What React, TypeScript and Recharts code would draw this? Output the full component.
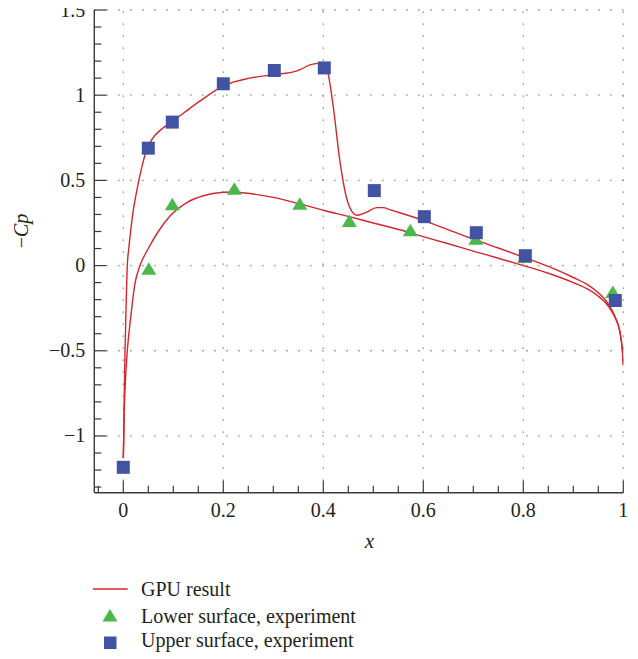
import React from 'react';
import { ComposedChart, Line, Scatter, XAxis, YAxis, ReferenceLine, Label } from 'recharts';

// GPU result: upper surface branch (x, -Cp)
const gpuUpper: [number, number][] = [
  [0, -1.13], [0.001, -1.0], [0.002, -0.75], [0.0035, -0.5], [0.0055, -0.25], [0.008, 0.0],
  [0.011, 0.1], [0.015, 0.21], [0.019, 0.305], [0.027, 0.44], [0.037, 0.578], [0.048, 0.69],
  [0.06, 0.752], [0.073, 0.792], [0.087, 0.823], [0.1, 0.85], [0.125, 0.905], [0.153, 0.965],
  [0.2, 1.055], [0.253, 1.1], [0.3, 1.12], [0.32, 1.127], [0.34, 1.137], [0.355, 1.152],
  [0.373, 1.178], [0.39, 1.187], [0.4, 1.178], [0.407, 1.155], [0.42, 0.93], [0.433, 0.617],
  [0.45, 0.363], [0.467, 0.295], [0.487, 0.314], [0.507, 0.34], [0.52, 0.34], [0.533, 0.328],
  [0.553, 0.31], [0.6, 0.265], [0.65, 0.21], [0.7, 0.155], [0.75, 0.103], [0.8, 0.05],
  [0.85, -0.005], [0.9, -0.07], [0.93, -0.115], [0.95, -0.16], [0.965, -0.205], [0.975, -0.25],
  [0.985, -0.31], [0.992, -0.37], [0.996, -0.44], [0.999, -0.53], [1.0, -0.585],
];

// GPU result: lower surface branch (x, -Cp)
const gpuLower: [number, number][] = [
  [0, -1.13], [0.0015, -0.89], [0.004, -0.69], [0.008, -0.5], [0.015, -0.3], [0.0234, -0.105],
  [0.0334, 0.0], [0.05, 0.1], [0.07, 0.2], [0.093, 0.29], [0.127, 0.37], [0.16, 0.41],
  [0.2, 0.43], [0.22, 0.432], [0.26, 0.42], [0.3, 0.4], [0.353, 0.362], [0.4, 0.325],
  [0.452, 0.287], [0.5, 0.25], [0.553, 0.21], [0.6, 0.17], [0.65, 0.128], [0.7, 0.085],
  [0.75, 0.043], [0.8, 0.0], [0.85, -0.045], [0.9, -0.1], [0.93, -0.14], [0.95, -0.18],
  [0.965, -0.22], [0.975, -0.26], [0.985, -0.315], [0.992, -0.375], [0.996, -0.44],
  [0.999, -0.53], [1.0, -0.585],
];

// Experiments
const lowerExpX = [0.051, 0.098, 0.222, 0.353, 0.452, 0.574, 0.705, 0.803, 0.979];
const lowerExpY = [-0.018, 0.36, 0.451, 0.363, 0.261, 0.207, 0.158, 0.05, -0.155];
const upperExpX = [0.0, 0.05, 0.098, 0.2, 0.302, 0.402, 0.502, 0.602, 0.706, 0.804, 0.984];
const upperExpY = [-1.184, 0.689, 0.842, 1.067, 1.145, 1.16, 0.44, 0.287, 0.193, 0.058, -0.205];

// Axes ticks
const xTicks = [-0.05, 0, 0.05, 0.1, 0.15, 0.2, 0.25, 0.3, 0.35, 0.4, 0.45, 0.5, 0.55, 0.6, 0.65, 0.7, 0.75, 0.8, 0.85, 0.9, 0.95, 1];
const xMajor = [0, 0.2, 0.4, 0.6, 0.8, 1];
const yTicks = [-1.3, -1.2, -1.1, -1, -0.9, -0.8, -0.7, -0.6, -0.5, -0.4, -0.3, -0.2, -0.1, 0, 0.1, 0.2, 0.3, 0.4, 0.5, 0.6, 0.7, 0.8, 0.9, 1, 1.1, 1.2, 1.3, 1.4, 1.5];
const yMajor = [-1, -0.5, 0, 0.5, 1, 1.5];

const toPts = (arr: [number, number][]) => arr.map(([x, y]) => ({ x, y }));
const zipPts = (xs: number[], ys: number[]) => xs.map((x, i) => ({ x, y: ys[i] }));

const RED = '#d3262e';
const BLUE = '#4253a3';
const GREEN = '#4bb849';
const AXIS = '#3a3a3a';
const TEXT = '#231f20';
const GRID = '#7a7a7a';
const FONT = '"Liberation Serif", "DejaVu Serif", serif';

const fmt = (v: number) => (v < 0 ? '\u2212' + String(Math.abs(v)) : String(v));

const YTick = (props: any) => {
  const { x, y, payload } = props;
  const v = payload.value;
  const major = yMajor.includes(v);
  return (
    <g>
      <line x1={x} x2={x + (major ? 12 : 7)} y1={y} y2={y} stroke={AXIS} strokeWidth={1.2} />
      {major && (
        <text x={x - 9} y={y + 6.5} textAnchor="end" fontFamily={FONT} fontSize={20} fill={TEXT}>
          {fmt(v)}
        </text>
      )}
    </g>
  );
};

const XTick = (props: any) => {
  const { x, y, payload } = props;
  const v = payload.value;
  const major = xMajor.includes(v);
  return (
    <g>
      <line x1={x} x2={x} y1={y} y2={y - (major ? 12 : 7)} stroke={AXIS} strokeWidth={1.2} />
      {major && (
        <text x={x} y={y + 24.5} textAnchor="middle" fontFamily={FONT} fontSize={20} fill={TEXT}>
          {fmt(v)}
        </text>
      )}
    </g>
  );
};

const Square = (props: any) => {
  const { cx, cy } = props;
  if (cx == null || cy == null) return <g />;
  return <rect x={cx - 6.5} y={cy - 6.5} width={13} height={13} fill={BLUE} />;
};

const Triangle = (props: any) => {
  const { cx, cy } = props;
  if (cx == null || cy == null) return <g />;
  return <polygon points={`${cx},${cy - 6.5} ${cx + 7.5},${cy + 6} ${cx - 7.5},${cy + 6}`} fill={GREEN} />;
};

const YTitle = (props: any) => {
  const vb = props.viewBox || { x: 0, y: 10, width: 94.3, height: 482.7 };
  const x = vb.x + 28.5;
  const y = vb.y + vb.height / 2 - 20.3;
  return (
    <text x={x} y={y} transform={`rotate(-90, ${x}, ${y})`} textAnchor="middle" fontFamily={FONT} fontSize={20} fill={TEXT}>
      <tspan>{'\u2212'}</tspan>
      <tspan fontStyle="italic">Cp</tspan>
    </text>
  );
};

const XTitle = (props: any) => {
  const vb = props.viewBox || { x: 94.3, y: 492.7, width: 529, height: 75.3 };
  return (
    <text x={vb.x + 275.2} y={vb.y + 55.6} textAnchor="middle" fontFamily={FONT} fontSize={21} fontStyle="italic" fill={TEXT}>
      x
    </text>
  );
};

const gridProps = { stroke: GRID, strokeWidth: 1.3, strokeDasharray: '1.3 10.7' };

export default function App() {
  const upper = toPts(gpuUpper);
  const lower = toPts(gpuLower);
  const lowerExp = zipPts(lowerExpX, lowerExpY);
  const upperExp = zipPts(upperExpX, upperExpY);

  return (
    <div style={{ width: 638, position: 'relative', margin: '-8px 0 0 -8px' }}>
      <style>{'.recharts-surface, .recharts-wrapper { overflow: visible !important; }'}</style>
      <ComposedChart width={638} height={568} margin={{ top: 10, right: 14.7, left: 0, bottom: 0 }}>
        <XAxis
          type="number"
          dataKey="x"
          domain={[-0.058, 1]}
          allowDataOverflow
          ticks={xTicks}
          interval={0}
          tick={<XTick />}
          tickLine={false}
          tickSize={0}
          tickMargin={0}
          axisLine={{ stroke: AXIS, strokeWidth: 1.4 }}
          height={75.3}
        >
          <Label content={<XTitle />} />
        </XAxis>
        <YAxis
          type="number"
          dataKey="y"
          domain={[-1.333, 1.5]}
          allowDataOverflow
          ticks={yTicks}
          interval={0}
          tick={<YTick />}
          tickLine={false}
          tickSize={0}
          tickMargin={0}
          axisLine={{ stroke: AXIS, strokeWidth: 1.4 }}
          width={94.3}
        >
          <Label content={<YTitle />} />
        </YAxis>
        {xMajor.map((v) => (
          <ReferenceLine key={'gx' + v} x={v} {...gridProps} />
        ))}
        {yMajor.map((v) => (
          <ReferenceLine key={'gy' + v} y={v} {...gridProps} />
        ))}
        <Line data={upper} dataKey="y" type="monotone" stroke={RED} strokeWidth={1.4} dot={false} activeDot={false} isAnimationActive={false} legendType="none" />
        <Line data={lower} dataKey="y" type="monotone" stroke={RED} strokeWidth={1.4} dot={false} activeDot={false} isAnimationActive={false} legendType="none" />
        <Scatter data={lowerExp} dataKey="y" shape={<Triangle />} isAnimationActive={false} />
        <Scatter data={upperExp} dataKey="y" shape={<Square />} isAnimationActive={false} />
      </ComposedChart>
      <svg width={638} height={91} style={{ display: 'block' }}>
        <line x1={93} x2={127.7} y1={21} y2={21} stroke={RED} strokeWidth={1.4} />
        <text x={141} y={28} fontFamily={FONT} fontSize={20} fill={TEXT}>GPU result</text>
        <polygon points="110,41 117.5,53.5 102.5,53.5" fill={GREEN} />
        <text x={141} y={54.7} fontFamily={FONT} fontSize={20} fill={TEXT}>Lower surface, experiment</text>
        <rect x={104} y={68.5} width={12.5} height={12.5} fill={BLUE} />
        <text x={141} y={79.3} fontFamily={FONT} fontSize={20} fill={TEXT}>Upper surface, experiment</text>
      </svg>
    </div>
  );
}
